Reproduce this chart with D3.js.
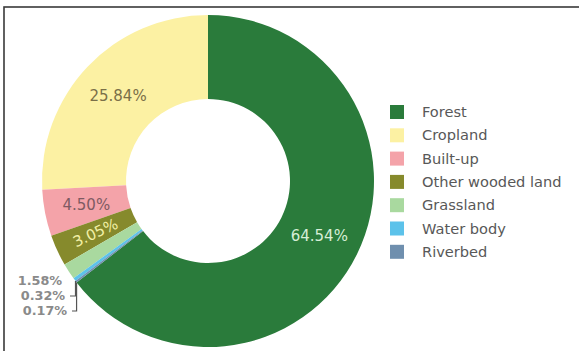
<!DOCTYPE html>
<html>
<head>
<meta charset="utf-8">
<script src="https://cdn.jsdelivr.net/npm/d3@7"></script>
<style>
  html, body { margin: 0; padding: 0; background: #ffffff; }
  svg { display: block; font-family: "DejaVu Sans", Verdana, sans-serif; }
</style>
</head>
<body>
<svg id="chart" width="579" height="351"></svg>
<script>
// Land cover shares (%)
const categories = ["Forest", "Cropland", "Built-up", "Other wooded land", "Grassland", "Water body", "Riverbed"];
const shares = [64.54, 25.84, 4.50, 3.05, 1.58, 0.32, 0.17];
const colors = ["#2a7b3b", "#fcf1a3", "#f4a3a9", "#868a2c", "#a9d99f", "#5cc2ea", "#6f8fae"];
const labelColors = ["#d6eed6", "#7a6f48", "#7e5a62", "#f2f0a6", null, null, null];
// Clockwise drawing order starting at 12 o'clock
const drawOrder = ["Forest", "Riverbed", "Water body", "Grassland", "Other wooded land", "Built-up", "Cropland"];

const data = categories.map((c, i) => ({ name: c, value: shares[i], color: colors[i], labelColor: labelColors[i] }));

const svg = d3.select("#chart");
const W = 579, H = 351;

// frame (top and left edges visible)
svg.append("rect").attr("x", 4).attr("y", 7).attr("width", W + 20).attr("height", H + 20)
  .attr("fill", "#ffffff").attr("stroke", "#3a3a3a").attr("stroke-width", 1.6);

const cx = 208, cy = 181, rOuter = 166, rInner = 82;
const g = svg.append("g").attr("transform", `translate(${cx},${cy})`);

const pie = d3.pie().value(d => d.value)
  .sort((a, b) => drawOrder.indexOf(a.name) - drawOrder.indexOf(b.name));
const arcs = pie(data);
const arc = d3.arc().innerRadius(rInner).outerRadius(rOuter);

g.selectAll("path.slice").data(arcs).join("path")
  .attr("class", "slice")
  .attr("d", arc)
  .attr("fill", d => d.data.color);

const fmt = v => v.toFixed(2) + "%";
const labelSize = 15;
const outerSize = 12.8;
const legendSize = 14.6;

// in-slice labels
const labelArc = d3.arc().innerRadius((rInner + rOuter) / 2).outerRadius((rInner + rOuter) / 2);
arcs.filter(d => d.data.labelColor).forEach(d => {
  const [x, y] = labelArc.centroid(d);
  const mid = (d.startAngle + d.endAngle) / 2 * 180 / Math.PI;
  const rot = d.data.name === "Other wooded land" ? mid - 270 : 0;
  g.append("text")
    .attr("transform", `translate(${x},${y}) rotate(${rot})`)
    .attr("text-anchor", "middle")
    .attr("dy", "0.35em")
    .attr("font-size", labelSize)
    .attr("fill", d.data.labelColor)
    .text(fmt(d.data.value));
});

// outside labels for the thin slices
const byName = Object.fromEntries(arcs.map(d => [d.data.name, d]));
const outer = [
  { name: "Grassland", x: 40, y: 281, leader: false },
  { name: "Water body", x: 43, y: 296, leader: true },
  { name: "Riverbed", x: 45, y: 311, leader: true }
];
outer.forEach(o => {
  const d = byName[o.name];
  svg.append("text")
    .attr("x", o.x).attr("y", o.y)
    .attr("text-anchor", "middle")
    .attr("dy", "0.35em")
    .attr("font-size", outerSize)
    .attr("font-weight", "bold")
    .attr("fill", "#8a8a8a")
    .text(fmt(d.data.value));
  if (o.leader) {
    const a = d.startAngle;
    const ex = cx + rOuter * Math.sin(a), ey = cy - rOuter * Math.cos(a);
    svg.append("path")
      .attr("d", `M${o.x + 27},${o.y} H${ex} V${ey}`)
      .attr("fill", "none").attr("stroke", "#555").attr("stroke-width", 1.2);
  }
});

// legend
svg.append("clipPath").attr("id", "legclip")
  .append("rect").attr("x", 380).attr("y", 90).attr("width", 181).attr("height", 180);
const legend = svg.append("g").attr("clip-path", "url(#legclip)");
const step = 23.3, ly0 = 112;
data.forEach((d, i) => {
  const y = ly0 + i * step;
  legend.append("rect").attr("x", 390).attr("y", y - 7).attr("width", 14).attr("height", 14).attr("fill", d.color);
  legend.append("text").attr("x", 422).attr("y", y).attr("dy", "0.35em")
    .attr("font-size", legendSize).attr("fill", "#585858").text(d.name);
});
</script>
</body>
</html>
